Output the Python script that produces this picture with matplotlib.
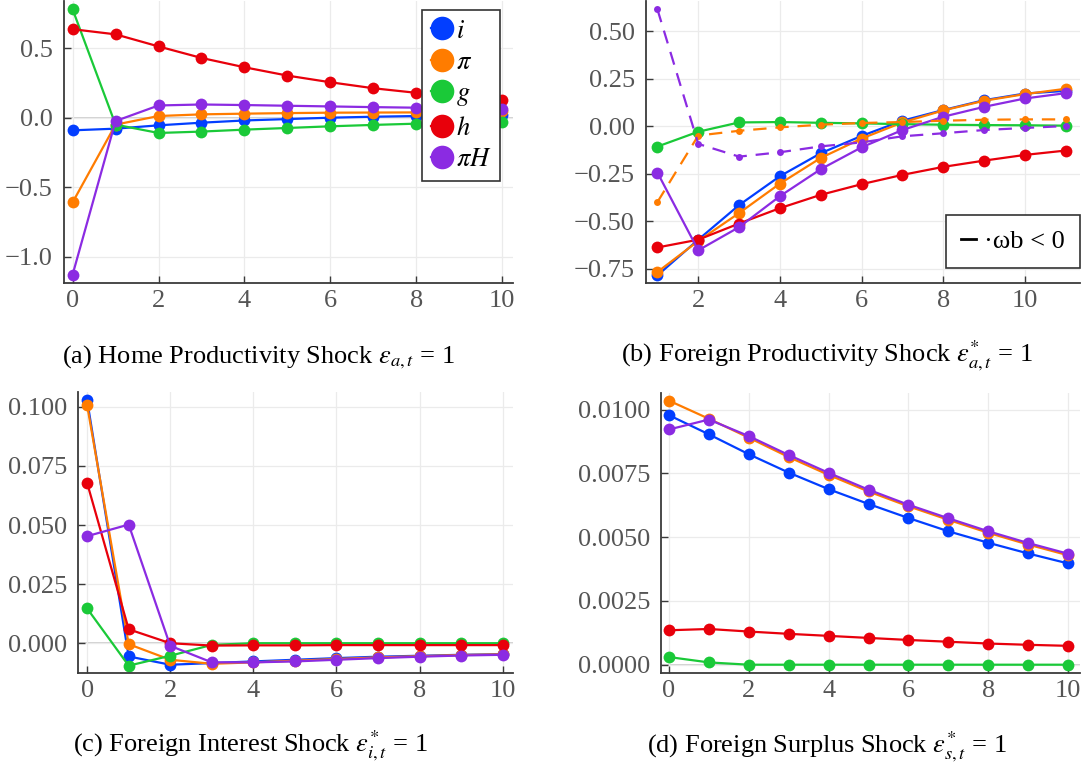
import matplotlib
matplotlib.use("Agg")
import matplotlib.pyplot as plt
from matplotlib.lines import Line2D

plt.rcParams['font.family'] = ['Liberation Serif', 'DejaVu Serif']
plt.rcParams['mathtext.fontset'] = 'stix'

# ---------------- data ----------------
colors = {"i": "#023eff", "pi": "#ff7c00", "g": "#1ac938", "h": "#e8000b", "piH": "#8b2be2"}
labels = {"i": "$i$", "pi": r"$\pi$", "g": "$g$", "h": "$h$", "piH": r"$\pi H$"}

t_a = list(range(0, 11))
a_i = [-0.091, -0.079, -0.055, -0.036, -0.020, -0.010, 0.000, 0.007, 0.012, 0.015, 0.020]
a_pi = [-0.61, -0.05, 0.012, 0.024, 0.029, 0.033, 0.036, 0.037, 0.038, 0.039, 0.045]
a_g = [0.78, -0.05, -0.11, -0.10, -0.086, -0.074, -0.062, -0.052, -0.043, -0.037, -0.033]
a_h = [0.637, 0.600, 0.513, 0.430, 0.363, 0.303, 0.255, 0.212, 0.179, 0.150, 0.129]
a_piH = [-1.13, -0.024, 0.088, 0.095, 0.091, 0.086, 0.081, 0.076, 0.072, 0.068, 0.062]

t_b = list(range(1, 12))
b_i = [-0.786, -0.598, -0.416, -0.264, -0.143, -0.052, 0.028, 0.084, 0.136, 0.171, 0.185]
b_pi = [-0.768, -0.605, -0.458, -0.303, -0.168, -0.066, 0.019, 0.082, 0.133, 0.168, 0.196]
b_g = [-0.108, -0.030, 0.019, 0.021, 0.017, 0.014, 0.010, 0.007, 0.005, 0.004, 0.002]
b_h = [-0.639, -0.598, -0.513, -0.432, -0.362, -0.306, -0.257, -0.215, -0.182, -0.152, -0.129]
b_piH = [-0.245, -0.654, -0.532, -0.369, -0.227, -0.112, -0.021, 0.049, 0.101, 0.145, 0.173]
b_pi_neg = [-0.40, -0.05, -0.025, -0.007, 0.007, 0.016, 0.021, 0.028, 0.033, 0.035, 0.035]
b_piH_neg = [0.614, -0.094, -0.161, -0.138, -0.107, -0.086, -0.054, -0.038, -0.021, -0.010, 0.000]

t_c = list(range(0, 11))
c_i = [0.1028, -0.0056, -0.0091, -0.0084, -0.0077, -0.0070, -0.0063, -0.0057, -0.0053, -0.0049, -0.0046]
c_pi = [0.1007, -0.0004, -0.0070, -0.0087, -0.0081, -0.0074, -0.0067, -0.0060, -0.0055, -0.0050, -0.0047]
c_g = [0.0147, -0.0095, -0.0053, -0.0007, 0.0, 0.0, 0.0, 0.0, 0.0, 0.0, 0.0]
c_h = [0.0678, 0.0059, 0.0000, -0.0010, -0.0009, -0.0009, -0.0008, -0.0008, -0.0008, -0.0008, -0.0008]
c_piH = [0.0453, 0.0502, -0.0011, -0.0081, -0.0081, -0.0077, -0.0070, -0.0063, -0.0057, -0.0052, -0.0049]

t_d = list(range(0, 11))
d_i = [0.00978, 0.00903, 0.00825, 0.00753, 0.00688, 0.00630, 0.00575, 0.00523, 0.00478, 0.00436, 0.00397]
d_pi = [0.01035, 0.00964, 0.00890, 0.00814, 0.00744, 0.00679, 0.00621, 0.00568, 0.00517, 0.00471, 0.00429]
d_g = [0.00030, 0.00009, 0.0, 0.0, 0.0, 0.0, 0.0, 0.0, 0.0, 0.0, 0.0]
d_h = [0.00135, 0.00140, 0.00130, 0.00121, 0.00113, 0.00105, 0.00097, 0.00090, 0.00083, 0.00078, 0.00074]
d_piH = [0.00922, 0.00961, 0.00896, 0.00822, 0.00752, 0.00686, 0.00627, 0.00574, 0.00523, 0.00477, 0.00435]

captions = [
    r"(a) Home Productivity Shock $\varepsilon_{a,t}$ = 1",
    r"(b) Foreign Productivity Shock $\varepsilon^{*}_{a,t}$ = 1",
    r"(c) Foreign Interest Shock $\varepsilon^{*}_{i,t}$ = 1",
    r"(d) Foreign Surplus Shock $\varepsilon^{*}_{s,t}$ = 1",
]

# ---------------- figure ----------------
W, H = 1083, 769
fig = plt.figure(figsize=(W / 100, H / 100), dpi=100)

def px_axes(l, r, t, b):
    return fig.add_axes([l / W, 1 - b / H, (r - l) / W, (b - t) / H])

ax_a = px_axes(64, 513, 1, 283)
ax_b = px_axes(646, 1080, 1, 283)
ax_c = px_axes(78, 513, 392, 673)
ax_d = px_axes(661, 1080, 393, 673)

def style(ax, xlim, ylim, yticks, yfmt, xticks, zero=True):
    ax.set_xlim(*xlim)
    ax.set_ylim(*ylim)
    ax.set_xticks(xticks)
    ax.set_yticks(yticks)
    ax.set_yticklabels([yfmt.format(v).replace("-", "\u2212") for v in yticks])
    for s in ["top", "right"]:
        ax.spines[s].set_visible(False)
    for s in ["left", "bottom"]:
        ax.spines[s].set_color("#3a3a3a")
        ax.spines[s].set_linewidth(1.3)
    ax.tick_params(direction="in", length=5, width=1, color="#3a3a3a",
                   labelsize=19, labelcolor="#555555")
    ax.tick_params(axis="y", pad=8)
    ax.tick_params(axis="x", pad=5)
    ax.grid(True, color="#ebebeb", linewidth=0.9)
    ax.set_axisbelow(True)
    if zero:
        ax.axhline(0, color="#c8c8c8", linewidth=1.2, zorder=0.5)

def plot_series(ax, t, series, ms=8.5):
    for key, ys in series:
        ax.plot(t, ys, color=colors[key], lw=1.6, marker="o", ms=ms,
                markeredgewidth=0, label=labels[key])

# (a)
plot_series(ax_a, t_a, [("i", a_i), ("pi", a_pi), ("g", a_g), ("h", a_h), ("piH", a_piH)])
style(ax_a, (-0.2, 10.25), (-1.19, 0.84), [-1.0, -0.5, 0.0, 0.5], "{:.1f}", [0, 2, 4, 6, 8, 10])
leg = ax_a.legend(loc="upper left", bbox_to_anchor=(422 / W, 1 - 10 / H), bbox_transform=fig.transFigure,
                  borderaxespad=0, fontsize=19, markerscale=2.0, handlelength=0.8, handletextpad=0.12,
                  labelspacing=0.3, borderpad=0.35, fancybox=False, framealpha=1, edgecolor="#333333")
leg.get_frame().set_linewidth(1.2)

# (b)
plot_series(ax_b, t_b, [("i", b_i), ("pi", b_pi), ("g", b_g), ("h", b_h), ("piH", b_piH)])
ax_b.plot(t_b, b_pi_neg, color=colors["pi"], lw=1.6, ls=(0, (6, 4)), marker="o", ms=5, markeredgewidth=0)
ax_b.plot(t_b, b_piH_neg, color=colors["piH"], lw=1.6, ls=(0, (6, 4)), marker="o", ms=5, markeredgewidth=0)
style(ax_b, (0.72, 11.35), (-0.826, 0.658), [-0.75, -0.5, -0.25, 0.0, 0.25, 0.5], "{:.2f}", [2, 4, 6, 8, 10], zero=False)
h_b = [Line2D([], [], color="black", lw=2)]
leg_b = ax_b.legend(h_b, ["\u00b7\u03c9b < 0"], loc="upper left", bbox_to_anchor=(946 / W, 1 - 215 / H),
                    bbox_transform=fig.transFigure, borderaxespad=0, fontsize=19, handlelength=0.6,
                    handletextpad=0.3, borderpad=0.55, fancybox=False, framealpha=1, edgecolor="#333333")
leg_b.get_frame().set_linewidth(1.2)

# (c)
plot_series(ax_c, t_c, [("i", c_i), ("pi", c_pi), ("g", c_g), ("h", c_h), ("piH", c_piH)])
style(ax_c, (-0.22, 10.25), (-0.0126, 0.1063), [0.0, 0.025, 0.05, 0.075, 0.1], "{:.3f}", [0, 2, 4, 6, 8, 10])

# (d)
plot_series(ax_d, t_d, [("i", d_i), ("pi", d_pi), ("g", d_g), ("h", d_h), ("piH", d_piH)])
style(ax_d, (-0.2, 10.3), (-0.000325, 0.01065), [0.0, 0.0025, 0.005, 0.0075, 0.01], "{:.4f}", [0, 2, 4, 6, 8, 10])

# captions
cap_pos = [(258, 357), (827, 356), (250, 746), (827, 747)]
for txt, (x, y) in zip(captions, cap_pos):
    fig.text(x / W, 1 - y / H, txt, ha="center", va="center", fontsize=19, color="black")

fig.savefig("out.png", dpi=100)
